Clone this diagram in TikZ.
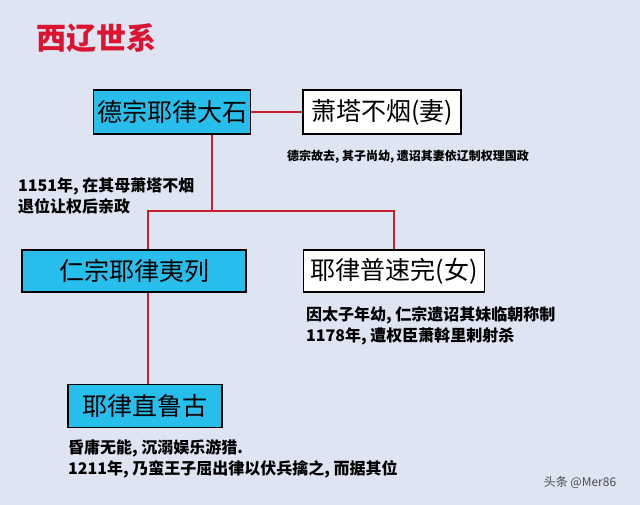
\documentclass[tikz,border=0pt]{standalone}
\usepackage{fontspec}
\setmainfont{Noto Sans CJK SC}
\usetikzlibrary{positioning}
\definecolor{bgc}{RGB}{222,228,242}
\definecolor{boxc}{RGB}{40,190,235}
\definecolor{linec}{RGB}{200,30,45}
\definecolor{titlec}{RGB}{220,20,50}
\tikzset{
	% nodes
	kingbox/.style ={draw=black,line width=1.2pt,fill=boxc,font=\fontsize{25}{28}\selectfont,inner sep=0pt},
	matebox/.style ={draw=black,line width=1.2pt,fill=white,font=\fontsize{25}{28}\selectfont,inner sep=0pt},
	notetext/.style={font=\bfseries\fontsize{16}{21}\selectfont,align=left,inner sep=0pt},
	% connector
	link/.style    ={linec,line width=2pt}
}
\begin{document}
\begin{tikzpicture}[x=1pt,y=-1pt]
	\fill[bgc] (0,0) rectangle (640,505);
	\useasboundingbox (0,0) rectangle (640,505);
	\node[font=\bfseries\fontsize{30}{32}\selectfont,text=titlec] (title) at (96,38) {西辽世系};
	% boxes
	\node[kingbox,minimum width=157,minimum height=44] (dazong) at (172,112) {德宗耶律大石};
	\node[matebox,minimum width=158,minimum height=44] (xiao) at (382,112) {萧塔不烟(妻)};
	\node[kingbox,minimum width=224,minimum height=42] (renzong) at (134,271) {仁宗耶律夷列};
	\node[matebox,minimum width=181,minimum height=42] (pusu) at (394,271) {耶律普速完(女)};
	\node[kingbox,minimum width=154,minimum height=43] (zhilu) at (145,406) {耶律直鲁古};
	% notes
	\node[notetext,font=\bfseries\fontsize{12}{14}\selectfont] (note1) at (408,157) {德宗故去, 其子尚幼, 遗诏其妻依辽制权理国政};
	\node[notetext,anchor=west] (note2) at (18,196) {1151年, 在其母萧塔不烟\\退位让权后亲政};
	\node[notetext,anchor=west] (note3) at (306,326) {因太子年幼, 仁宗遗诏其妹临朝称制\\1178年, 遭权臣萧斡里剌射杀};
	\node[notetext,anchor=west] (note4) at (68,459) {昏庸无能, 沉溺娱乐游猎.\\1211年, 乃蛮王子屈出律以伏兵擒之, 而据其位};
	\node[font=\fontsize{12}{14}\selectfont,text=black!70] (mark) at (580,482) {头条 @Mer86};
	% connectors
	\coordinate (fork) at (212,211);
	\draw[link] (dazong) -- (xiao);
	\draw[link] (dazong.south -| fork) -- (fork);
	\draw[link] (renzong.north -| 148,0) |- (fork) -| (pusu.north);
	\draw[link] (renzong.south -| 148,0) -- (zhilu.north -| 148,0);
\end{tikzpicture}
\end{document}
